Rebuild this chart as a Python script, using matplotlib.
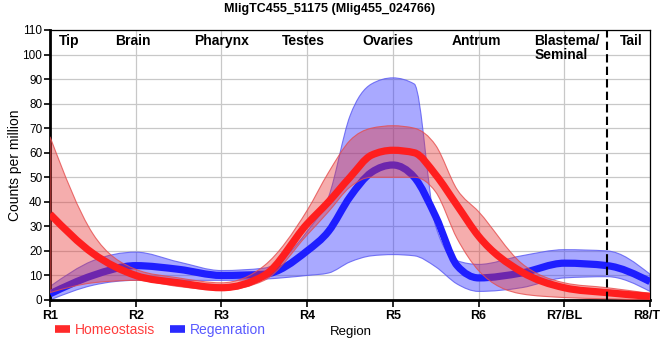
import numpy as np
import matplotlib
matplotlib.use("Agg")
import matplotlib.pyplot as plt
from matplotlib.path import Path
from matplotlib.patches import PathPatch
from matplotlib.lines import Line2D

plt.rcParams['font.family'] = ['Liberation Sans', 'DejaVu Sans']

# region ticks and the sampling grid (finer around the ovary peak)
regions = ["R1", "R2", "R3", "R4", "R5", "R6", "R7/BL", "R8/TL"]
grid_x = [0, 0.5, 1, 1.5, 2, 2.5, 3, 3.25, 3.5, 3.75, 4, 4.25, 4.5, 4.75, 5, 5.5, 6, 6.5, 7]

# counts per million
homeo_mean = [35, 19, 10, 7, 5, 10, 31, 40, 50, 59, 61, 60, 51, 38.5, 26, 11.5, 5, 3, 1.5]
homeo_upper = [66.5, 27, 12.5, 9, 7, 14, 36.5, 52, 65, 70, 71, 70, 63, 45, 36, 15, 7, 5, 2.7]
homeo_lower = [3, 7, 8, 5.5, 4, 8, 26.5, 36, 46, 50, 50, 50, 44, 25, 12, 2.5, 1, 0.5, 0]

regen_mean = [2.5, 10, 14, 12.5, 10, 10.5, 20, 28, 42, 52, 55, 50, 34, 14, 9, 11, 15, 14, 7.5]
regen_upper = [5.5, 16, 19.5, 15.5, 12, 13, 28, 42, 75, 88, 90.5, 88, 30, 16, 14.5, 18, 20.5, 20, 10.5]
regen_lower = [0, 6, 8, 8, 8, 8.5, 10, 11, 15.5, 18, 18.5, 18, 13.5, 6.5, 3.5, 5, 9, 9.5, 3.5]

# body parts written across the top
part_names = ["Tip", "Brain", "Pharynx", "Testes", "Ovaries", "Antrum", "Blastema/\nSeminal", "Tail"]
part_x = [0.22, 0.97, 2.0, 2.96, 3.94, 4.98, 5.65, 6.78]


def monotone_verts(x, y):
    """
    Cubic bezier vertices for a monotone curve through the points
    (same slopes as a monotoneX curve).
    """
    x = np.asarray(x, float)
    y = np.asarray(y, float)
    h = np.diff(x)
    s = np.diff(y) / h
    n = len(x)
    m = np.zeros(n)
    for i in range(1, n - 1):
        h0, h1 = h[i - 1], h[i]
        s0, s1 = s[i - 1], s[i]
        p = (s0 * h1 + s1 * h0) / (h0 + h1)
        m[i] = (np.sign(s0) + np.sign(s1)) * min(abs(s0), abs(s1), 0.5 * abs(p))
    m[0] = (3 * s[0] - m[1]) / 2
    m[-1] = (3 * s[-1] - m[-2]) / 2

    verts = [(x[0], y[0])]
    for i in range(n - 1):
        d = h[i] / 3
        verts.append((x[i] + d, y[i] + d * m[i]))
        verts.append((x[i + 1] - d, y[i + 1] - d * m[i + 1]))
        verts.append((x[i + 1], y[i + 1]))
    return verts


def line_path(x, y):
    verts = monotone_verts(x, y)
    codes = [Path.MOVETO] + [Path.CURVE4] * (len(verts) - 1)
    return Path(verts, codes)


def band_path(x, lower, upper):
    top = monotone_verts(x, upper)
    bottom = monotone_verts(x, lower)[::-1]
    verts = top + bottom + [top[0]]
    codes = ([Path.MOVETO] + [Path.CURVE4] * (len(top) - 1)
             + [Path.LINETO] + [Path.CURVE4] * (len(bottom) - 1)
             + [Path.CLOSEPOLY])
    return Path(verts, codes)


fig = plt.figure(figsize=(6.6, 3.6), dpi=100)
ax = fig.add_axes([50 / 660, 60 / 360, 600 / 660, 270 / 360])

# regeneration first, homeostasis drawn on top of it
ax.add_patch(PathPatch(band_path(grid_x, regen_lower, regen_upper),
                       facecolor=(0.2, 0.2, 1.0, 0.42), edgecolor=(0.35, 0.35, 0.95, 0.8),
                       lw=0.8, zorder=2))
ax.add_patch(PathPatch(line_path(grid_x, regen_mean), fill=False,
                       edgecolor='#1e1eff', lw=5.2, capstyle='butt', zorder=3))
ax.add_patch(PathPatch(band_path(grid_x, homeo_lower, homeo_upper),
                       facecolor=(0.9, 0.2, 0.2, 0.4), edgecolor=(0.9, 0.3, 0.3, 0.8),
                       lw=0.8, zorder=4))
ax.add_patch(PathPatch(line_path(grid_x, homeo_mean), fill=False,
                       edgecolor='#ff1e1e', lw=5.2, capstyle='butt', zorder=5))

# tail boundary
ax.axvline(6.5, color='black', lw=1.5, ls=(0, (4, 2)), zorder=6)

for name, px in zip(part_names, part_x):
    ha = 'left' if name.startswith("Blastema") else 'center'
    ax.text(px, 108.5, name, ha=ha, va='top', fontsize=10, fontweight='bold',
            linespacing=1.05, zorder=7)

ax.set_xlim(0, 7)
ax.set_ylim(0, 110)
ax.set_xticks(range(len(regions)))
ax.set_xticklabels(regions, fontsize=9, fontweight='bold')
ax.set_yticks(range(0, 111, 10))
ax.tick_params(axis='y', labelsize=8.5, length=4, width=1.2, pad=1.5)
ax.tick_params(axis='x', length=5, width=1.2, pad=2)
ax.grid(True, color='#c8c8c8', lw=0.9)
ax.set_axisbelow(True)

for side in ['left', 'bottom']:
    ax.spines[side].set_linewidth(2)
for side in ['top', 'right']:
    ax.spines[side].set_linewidth(0.9)

ax.set_ylabel("Counts per million", fontsize=10, labelpad=0)
fig.text(351 / 660, 1 - 332 / 360, "Region", ha='center', va='center', fontsize=9.5)
fig.text(0.5, 1 - 9 / 360, "MligTC455_51175 (Mlig455_024766)", ha='center', va='center',
         fontsize=9, fontweight='bold')

handles = [Line2D([], [], color='#ff2a2a', lw=5.5, solid_capstyle='butt'),
           Line2D([], [], color='#2a2aff', lw=5.5, solid_capstyle='butt')]
fig.legend(handles, ["Homeostasis", "Regenration"], loc='center left',
           bbox_to_anchor=(55 / 660, 1 - 330 / 360), ncol=2, frameon=False,
           fontsize=10, handlelength=1.1, handletextpad=0.3, columnspacing=1.1,
           labelcolor=['#ff3c3c', '#5a5aff'], borderaxespad=0, borderpad=0)

fig.savefig("out.png", dpi=100)
